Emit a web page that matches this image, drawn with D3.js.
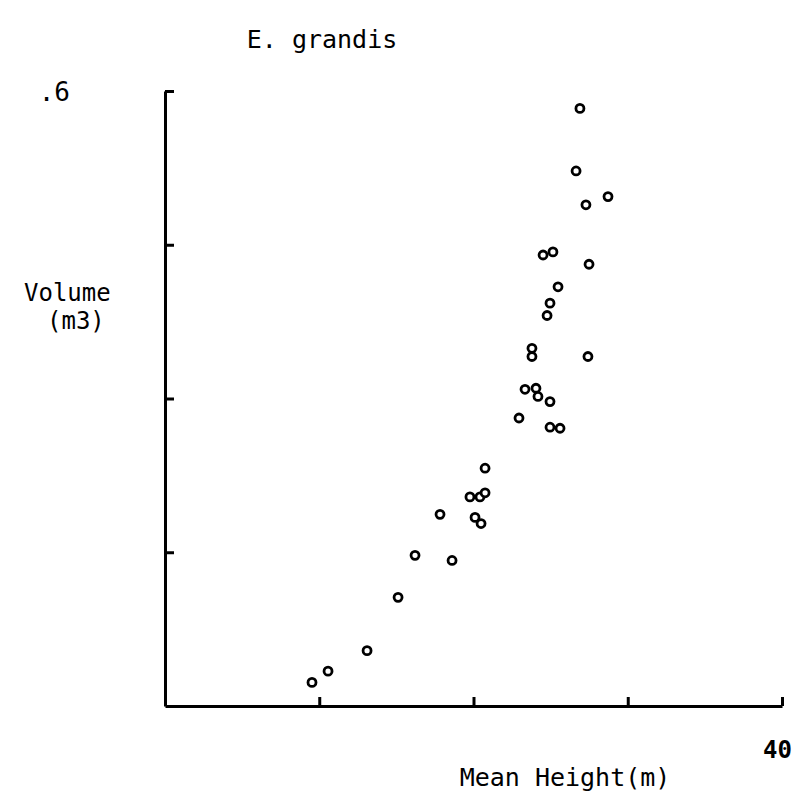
<!DOCTYPE html>
<html>
<head>
<meta charset="utf-8">
<script src="https://cdn.jsdelivr.net/npm/d3@7"></script>
<style>
  body { margin: 0; background: #fff; }
  text { font-family: "DejaVu Sans Mono", monospace; fill: #000; }
</style>
</head>
<body>
<svg id="chart" width="805" height="804"></svg>
<script>
// Mean height (m) vs volume (m3), E. grandis
const heights = [
    9.53, 10.57, 13.10, 15.11, 16.21, 18.61, 17.83, 19.77, 20.42, 20.75,
    20.10, 20.49, 20.75, 22.95, 24.96, 25.61, 24.96, 23.34, 24.05, 24.18,
    23.79, 23.79, 27.42, 24.77, 24.96, 25.48, 27.49, 24.51, 25.15, 27.29,
    28.72, 26.65, 26.90
];
const volumes = [
    0.023, 0.034, 0.054, 0.106, 0.147, 0.142, 0.187, 0.204, 0.204, 0.208,
    0.184, 0.178, 0.232, 0.281, 0.272, 0.271, 0.297, 0.309, 0.310, 0.302,
    0.349, 0.341, 0.341, 0.381, 0.393, 0.409, 0.431, 0.440, 0.443, 0.489,
    0.497, 0.522, 0.583
];
const xTicks = [0, 10, 20, 30, 40];
const yTicks = [0, 0.15, 0.3, 0.45, 0.6];

const title = 'E. grandis';
const xLabel = 'Mean Height(m)';
const yLabelLines = ['Volume', '(m3)'];

const margin = { top: 91, left: 165, right: 23, bottom: 98 };
const width = 805, height = 804;
const plotW = width - margin.left - margin.right;
const plotH = height - margin.top - margin.bottom;

const svg = d3.select('#chart');
const g = svg.append('g')
    .attr('transform', `translate(${margin.left},${margin.top})`);

const x = d3.scaleLinear().domain([0, 40]).range([0, plotW]);
const y = d3.scaleLinear().domain([0, 0.6]).range([plotH, 0]);

// axes: ticks point into the plot, no numbers except the two end labels
const xAxis = d3.axisBottom(x).tickValues(xTicks.slice(1)).tickSizeInner(-9).tickSizeOuter(0).tickFormat('');
const yAxis = d3.axisLeft(y).tickValues(yTicks.slice(1)).tickSizeInner(-9).tickSizeOuter(0).tickFormat('');

const styleAxis = (sel) => {
    sel.selectAll('path, line').attr('stroke', '#000').attr('stroke-width', 3);
};

g.append('g').attr('transform', `translate(0,${plotH})`).call(xAxis).call(styleAxis);
g.append('g').call(yAxis).call(styleAxis);

// end labels
g.append('text')
    .attr('x', x(0) - 95)
    .attr('y', y(0.6) + 10)
    .attr('text-anchor', 'end')
    .attr('font-size', 26)
    .text('.6');

g.append('text')
    .attr('x', x(40) + 10)
    .attr('y', plotH + 52)
    .attr('text-anchor', 'end')
    .attr('font-size', 24)
    .attr('font-weight', 'bold')
    .text('40');

// points
g.selectAll('circle.pt')
    .data(heights.map((h, i) => ({ h: h, v: volumes[i] })))
    .enter()
    .append('circle')
    .attr('class', 'pt')
    .attr('cx', (d) => x(d.h))
    .attr('cy', (d) => y(d.v))
    .attr('r', 4)
    .attr('fill', '#fff')
    .attr('stroke', '#000')
    .attr('stroke-width', 2.8);

// titles
svg.append('text')
    .attr('x', 322)
    .attr('y', 48)
    .attr('text-anchor', 'middle')
    .attr('font-size', 25)
    .text(title);

svg.append('text')
    .attr('x', 565)
    .attr('y', 786)
    .attr('text-anchor', 'middle')
    .attr('font-size', 25)
    .text(xLabel);

svg.append('text')
    .attr('x', 24)
    .attr('y', 301)
    .attr('font-size', 24)
    .text(yLabelLines[0]);

svg.append('text')
    .attr('x', 47)
    .attr('y', 329)
    .attr('font-size', 24)
    .text(yLabelLines[1]);
</script>
</body>
</html>
